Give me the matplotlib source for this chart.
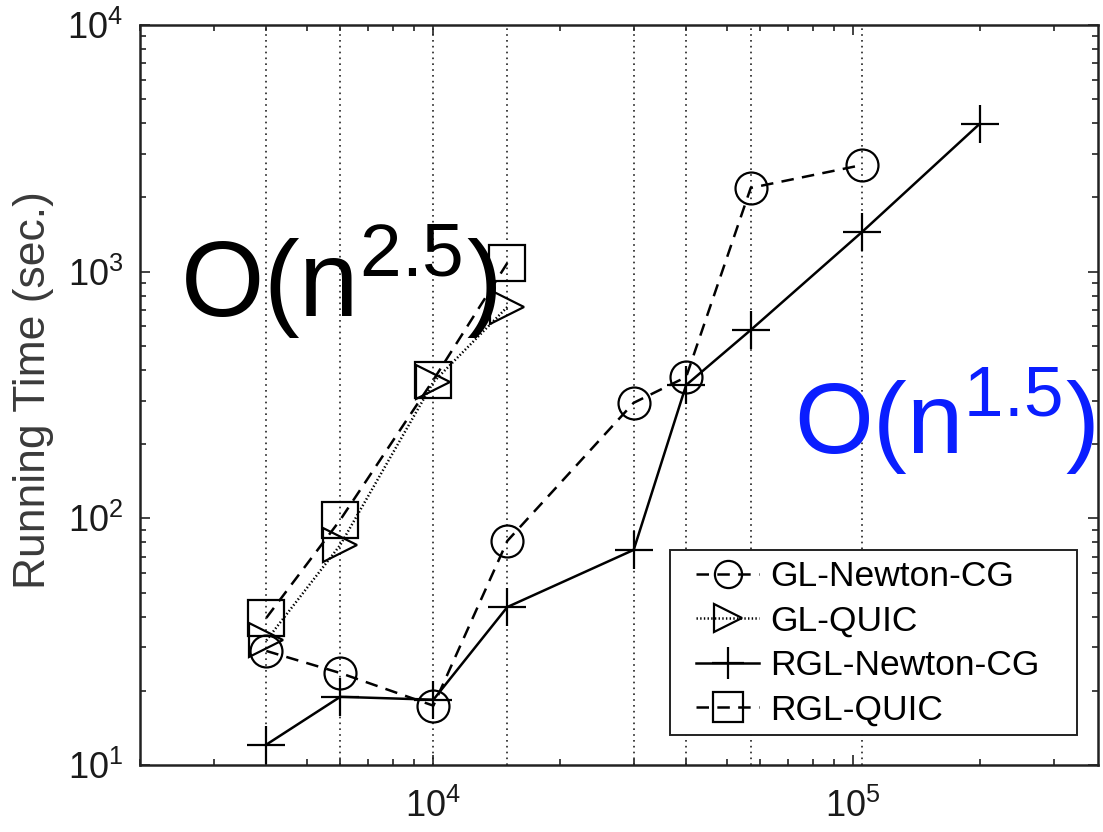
import matplotlib
matplotlib.use('Agg')
import matplotlib.pyplot as plt
from matplotlib.patches import Rectangle
from matplotlib.ticker import LogLocator

# Datos (tamano del problema n y tiempo en segundos)
n_gl = [4000, 6000, 10000, 15000, 30000, 40000, 57000, 105000]
n_rgl = [4000, 6000, 10000, 15000, 30000, 40000, 57000, 105000, 200000]
n_quic = [4000, 6000, 10000, 15000]

t_gl_newton = [29, 23.6, 17.4, 81, 294, 374, 2185, 2706]
t_gl_quic = [32, 78, 357, 719]
t_rgl_newton = [12.1, 18.9, 18.4, 43.7, 74.5, 347, 580, 1449, 3970]
t_rgl_quic = [39.5, 98.6, 364, 1084]

labels = ['GL-Newton-CG', 'GL-QUIC', 'RGL-Newton-CG', 'RGL-QUIC']

plt.rcParams['font.family'] = ['Liberation Sans', 'DejaVu Sans']
plt.rcParams['mathtext.fontset'] = 'custom'
plt.rcParams['mathtext.rm'] = 'Liberation Sans'
plt.rcParams['mathtext.it'] = 'Liberation Sans:italic'
plt.rcParams['mathtext.default'] = 'regular'
plt.rcParams['lines.scale_dashes'] = False

fig = plt.figure(figsize=(11.03, 8.32), dpi=100)
ax = fig.add_axes([0.1269, 0.0805, 0.8686, 0.8895])
ax.set_xscale('log')
ax.set_yscale('log')
ax.set_xlim(2000, 3.83e5)
ax.set_ylim(10, 1e4)

# lineas verticales punteadas en los tamanos medidos
for xv in n_gl:
    ax.axvline(xv, color='#333333', lw=1.3, dashes=(1.2, 3.0), zorder=1)

estilo = dict(color='black', lw=1.8, mfc='none', mec='black', mew=1.6)
ax.plot(n_gl, t_gl_newton, marker='o', ms=23, dashes=(9, 6), label=labels[0], **estilo)
ax.plot(n_quic, t_gl_quic, marker='>', ms=24, linestyle=':', label=labels[1], **estilo)
ax.plot(n_rgl, t_rgl_newton, marker='+', ms=27, linestyle='-', label=labels[2], **estilo)
ax.plot(n_quic, t_rgl_quic, marker='s', ms=26, dashes=(9, 6), label=labels[3], **estilo)

# ejes estilo MATLAB: ticks hacia dentro en los cuatro lados
for sp in ax.spines.values():
    sp.set_linewidth(1.8)
    sp.set_color('#222222')
ax.xaxis.set_major_locator(LogLocator(base=10, numticks=10))
ax.yaxis.set_major_locator(LogLocator(base=10, numticks=10))
ax.tick_params(which='both', direction='in', top=True, right=True, colors='#222222', width=1.2)
ax.tick_params(which='major', length=7, labelsize=26, labelcolor='#1a1a1a')
ax.tick_params(which='minor', length=4)
ax.tick_params(axis='x', which='major', pad=17)
ax.tick_params(axis='y', which='major', pad=12)

ax.set_ylabel('Running Time (sec.)', fontsize=32, color='#3a3a3a')
ax.yaxis.set_label_coords(-0.09, 0.507)

# anotaciones de complejidad
ax.text(0.042, 0.605, r'O(n$^{2.5}$)', transform=ax.transAxes, fontsize=77,
        color='black', ha='left', va='baseline', clip_on=False)
ax.text(0.683, 0.4216, r'O(n$^{1.5}$)', transform=ax.transAxes, fontsize=73,
        color='#0a1eff', ha='left', va='baseline', clip_on=False)

# marco de la leyenda dibujado aparte (mas margen a la izquierda que arriba)
marco = Rectangle((0.5532, 0.0405), 0.4249, 0.25, transform=ax.transAxes,
                  facecolor='white', edgecolor='#222222', lw=1.4, zorder=4)
ax.add_patch(marco)
leg = ax.legend(loc='upper left', bbox_to_anchor=(0.580, 0.2764), borderaxespad=0,
                fontsize=25.5, handlelength=1.8, handletextpad=0.3, borderpad=0,
                labelspacing=0.32, frameon=False, numpoints=1, markerscale=0.85)
leg.set_zorder(5)

fig.savefig('out.png', dpi=100)
